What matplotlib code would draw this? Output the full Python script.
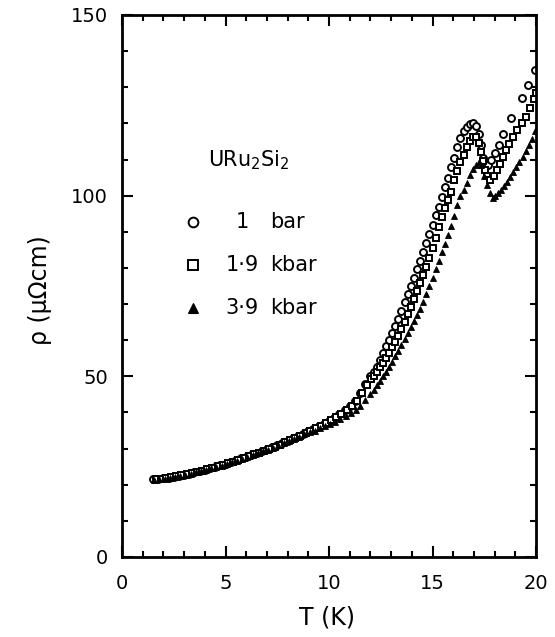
import matplotlib
matplotlib.use("Agg")
import matplotlib.pyplot as plt
from matplotlib.ticker import MultipleLocator

# ---- data ----
T_low = [1.50, 1.75, 2.00, 2.25, 2.50, 2.75, 3.00, 3.25, 3.50, 3.75, 4.00, 4.25,
         4.50, 4.75, 5.00, 5.25, 5.50, 5.75, 6.00, 6.25, 6.50, 6.75, 7.00, 7.25,
         7.50, 7.75, 8.00, 8.25, 8.50, 8.75]
rho_low = [21.5, 21.6, 21.8, 22.0, 22.2, 22.5, 22.8, 23.1, 23.5, 23.8, 24.2, 24.6,
           25.0, 25.4, 25.8, 26.3, 26.8, 27.3, 27.8, 28.3, 28.8, 29.3, 29.8, 30.4,
           31.0, 31.6, 32.2, 32.8, 33.4, 34.1]

# 1 bar (circles)
T_1bar = T_low + [9.00, 9.25, 9.50, 9.75, 10.00, 10.25, 10.50, 10.75, 11.00, 11.25,
                  11.50, 11.75, 12.00, 12.15, 12.30, 12.45, 12.60, 12.75, 12.90, 13.05,
                  13.20, 13.35, 13.50, 13.65, 13.80, 13.95, 14.10, 14.25, 14.40, 14.55,
                  14.70, 14.85, 15.00, 15.15, 15.30, 15.45, 15.60, 15.75, 15.90, 16.05,
                  16.20, 16.35, 16.50, 16.65, 16.80, 16.95, 17.10, 17.25, 17.35, 17.45,
                  17.55, 17.70, 17.85, 18.00, 18.20, 18.40, 18.80, 19.30, 19.60, 19.95]
rho_1bar = rho_low + [34.8, 35.5, 36.2, 36.9, 37.7, 38.6, 39.5, 40.6, 41.8, 43.3,
                      45.5, 48.0, 50.0, 51.2, 52.7, 54.5, 56.5, 58.3, 60.0, 62.0,
                      64.0, 66.0, 68.2, 70.5, 72.8, 75.0, 77.3, 79.6, 82.0, 84.5,
                      87.0, 89.5, 92.0, 94.6, 97.0, 99.5, 102.3, 105.0, 107.8, 110.5,
                      113.5, 116.0, 117.8, 119.0, 119.8, 120.0, 119.2, 117.0, 114.0, 110.5,
                      108.0, 108.5, 110.0, 111.8, 114.0, 117.0, 121.6, 127.0, 130.6, 134.8]

# 1.9 kbar (squares)
T_19kbar = [t + 0.12 for t in T_low] + [9.10, 9.35, 9.60, 9.85, 10.10, 10.35, 10.60, 10.85,
            11.10, 11.35, 11.60, 11.85, 12.05, 12.15, 12.30, 12.45, 12.60, 12.75, 12.90,
            13.05, 13.20, 13.35, 13.50, 13.65, 13.80, 13.95, 14.10, 14.25, 14.40, 14.55,
            14.70, 14.85, 15.00, 15.15, 15.30, 15.45, 15.60, 15.75, 15.90, 16.05, 16.20,
            16.35, 16.50, 16.65, 16.80, 16.95, 17.10, 17.25, 17.35, 17.45, 17.55, 17.65,
            17.80, 17.95, 18.10, 18.25, 18.40, 18.55, 18.70, 18.90, 19.10, 19.30, 19.50,
            19.70, 19.90, 20.00]
rho_19kbar = [r + 0.1 for r in rho_low] + [34.9, 35.6, 36.3, 37.0, 37.8, 38.7, 39.6, 40.7,
              41.9, 43.3, 45.3, 47.5, 49.2, 50.0, 51.3, 52.5, 53.6, 55.0, 56.5,
              58.0, 59.6, 61.3, 63.0, 65.0, 67.2, 69.3, 71.4, 73.5, 75.8, 78.0,
              80.2, 82.8, 85.5, 88.2, 91.2, 94.0, 96.5, 98.8, 101.0, 104.2, 106.8,
              109.2, 111.3, 113.5, 115.2, 116.1, 116.3, 114.5, 112.0, 109.5, 107.0, 105.5,
              104.3, 105.5, 107.0, 108.8, 110.6, 112.5, 114.3, 116.3, 118.2, 120.0, 121.9,
              124.2, 126.8, 128.5]

# 3.9 kbar (triangles)
T_39kbar = [t + 0.06 for t in T_low] + [9.06, 9.30, 9.55, 9.80, 10.05, 10.30, 10.55, 10.80,
            11.05, 11.30, 11.50, 11.75, 12.00, 12.15, 12.30, 12.45, 12.60, 12.75, 12.90,
            13.05, 13.20, 13.35, 13.50, 13.65, 13.80, 13.95, 14.10, 14.25, 14.40, 14.55,
            14.70, 14.85, 15.00, 15.15, 15.30, 15.45, 15.60, 15.75, 15.90, 16.05, 16.20,
            16.35, 16.50, 16.65, 16.80, 16.95, 17.10, 17.25, 17.35, 17.50, 17.65, 17.80,
            17.90, 18.00, 18.15, 18.30, 18.45, 18.60, 18.75, 18.90, 19.05, 19.20, 19.35,
            19.50, 19.65, 19.80, 19.95]
rho_39kbar = [r - 0.1 for r in rho_low] + [34.5, 35.0, 35.6, 36.2, 36.8, 37.5, 38.2, 39.0,
              39.8, 40.7, 41.8, 43.5, 45.0, 46.3, 47.6, 48.8, 50.0, 51.3, 52.7,
              54.0, 55.5, 57.0, 58.6, 60.3, 62.0, 63.6, 65.2, 67.0, 68.6, 70.5,
              72.7, 75.0, 77.3, 79.6, 81.9, 84.3, 86.7, 89.0, 91.5, 94.5, 97.5,
              99.8, 101.5, 103.5, 105.6, 107.3, 108.6, 109.3, 108.5, 105.5, 103.0, 100.8,
              99.4, 99.8, 100.6, 101.6, 102.7, 103.9, 105.1, 106.5, 107.9, 109.4, 110.8,
              112.4, 114.0, 115.8, 117.8]

legend_labels = [("1", "bar"), ("1·9", "kbar"), ("3·9", "kbar")]

# ---- figure ----
W, H = 555, 637
fig = plt.figure(figsize=(W / 100, H / 100), dpi=100)
ax = fig.add_axes([122 / W, 1 - 557 / H, 414 / W, 542 / H])

ax.plot(T_1bar, rho_1bar, linestyle="none", marker="o", ms=5.0, mfc="white",
        mec="black", mew=1.4)
ax.plot(T_19kbar, rho_19kbar, linestyle="none", marker="s", ms=4.4, mfc="white",
        mec="black", mew=1.4)
ax.plot(T_39kbar, rho_39kbar, linestyle="none", marker="^", ms=5.0, mfc="black",
        mec="black", mew=0.6)

ax.set_xlim(0, 20)
ax.set_ylim(0, 150)
ax.xaxis.set_major_locator(MultipleLocator(5))
ax.xaxis.set_minor_locator(MultipleLocator(1))
ax.yaxis.set_major_locator(MultipleLocator(50))
ax.yaxis.set_minor_locator(MultipleLocator(10))
ax.tick_params(which="both", direction="in", top=True, right=True, width=1.5)
ax.tick_params(which="major", length=8, labelsize=14, pad=12)
ax.tick_params(axis="y", which="major", pad=10)
ax.tick_params(which="minor", length=4)
for s in ax.spines.values():
    s.set_linewidth(2)

# annotations
fig.text(208 / W, 1 - 160 / H, r"URu$_{\mathregular{2}}$Si$_{\mathregular{2}}$",
         fontsize=15, va="center", ha="left")

ys = [222, 265, 308]
markers = [dict(marker="o", mfc="white", ms=7, mew=1.4),
           dict(marker="s", mfc="white", ms=6.5, mew=1.4),
           dict(marker="^", mfc="black", ms=6.5, mew=0.8)]
for (num, unit), y, m in zip(legend_labels, ys, markers):
    fx, fy = 193 / W, 1 - y / H
    ax.plot([fx], [fy], transform=fig.transFigure, linestyle="none",
            mec="black", clip_on=False, **m)
    fig.text(242 / W, fy, num, fontsize=15, va="center", ha="center")
    fig.text(270 / W, fy, unit, fontsize=15, va="center", ha="left")

fig.text(327 / W, 1 - 618 / H, "T (K)", fontsize=17, ha="center", va="center")
fig.text(40 / W, 1 - 290 / H, "ρ (μΩcm)", fontsize=17, ha="center", va="center",
         rotation=90)

fig.savefig("out.png", dpi=100)
